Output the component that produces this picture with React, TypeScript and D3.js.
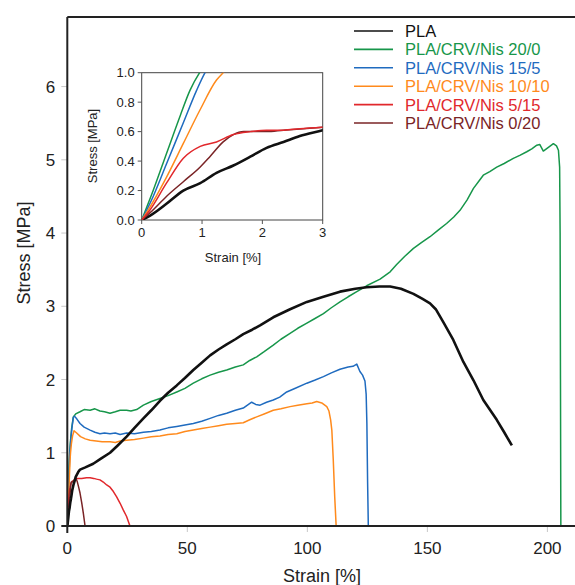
import React from 'react';
import * as d3 from 'd3';

type Pt = [number, number];

const pla: Pt[] = [[0,0],[0.14,0.03],[0.41,0.11],[0.69,0.2],[0.97,0.25],[1.24,0.32],[1.52,0.37],[1.8,0.43],[2.07,0.49],[2.35,0.53],[2.62,0.57],[3,0.61],[3.5,0.67],[4.6,0.74],[5.3,0.77],[7.5,0.8],[10.8,0.85],[14,0.92],[17.8,1.0],[21,1.1],[24.7,1.22],[28,1.34],[31.7,1.47],[35,1.58],[38.6,1.71],[42,1.82],[45.6,1.92],[49,2.02],[52.5,2.13],[56,2.23],[59.5,2.33],[63,2.41],[66.4,2.48],[70,2.55],[73.3,2.62],[77,2.68],[80.3,2.74],[85.8,2.85],[92.8,2.96],[99.8,3.06],[106.7,3.13],[113.6,3.2],[120,3.24],[124.7,3.26],[130,3.27],[134.5,3.27],[139,3.24],[144.2,3.17],[148,3.1],[151.1,3.04],[153.5,2.96],[156.7,2.78],[160.8,2.54],[165,2.24],[169.2,1.99],[173.3,1.72],[178.9,1.45],[182,1.28],[185.2,1.1]];

const crv20: Pt[] = [[0,0],[0.19,0.2],[0.41,0.45],[0.64,0.71],[0.8,0.88],[0.96,1.0],[1.3,1.15],[1.8,1.33],[2.5,1.49],[3.5,1.53],[5.3,1.56],[7,1.59],[9.5,1.58],[11.5,1.6],[13.6,1.57],[15.5,1.56],[17.8,1.54],[20,1.56],[22,1.58],[24.7,1.58],[26.5,1.57],[28.9,1.59],[31.7,1.65],[35,1.7],[38.6,1.74],[42,1.78],[45.6,1.83],[49,1.88],[52.5,1.95],[56,2.01],[59.5,2.06],[63,2.1],[66.4,2.13],[70,2.17],[73.3,2.2],[76,2.26],[78.9,2.31],[82,2.38],[85.8,2.47],[89,2.55],[92.8,2.63],[96,2.7],[99.8,2.77],[103,2.83],[106.7,2.9],[110,2.98],[113.6,3.06],[117,3.13],[120.6,3.2],[124.7,3.28],[130.3,3.37],[134.5,3.47],[137.2,3.57],[140.5,3.68],[144.2,3.79],[147.5,3.87],[151.1,3.95],[154.5,4.04],[158,4.13],[161,4.22],[163.6,4.31],[166.5,4.45],[169.2,4.61],[171.5,4.71],[173.3,4.79],[176,4.84],[178.9,4.9],[182,4.95],[185.8,5.02],[188.5,5.06],[191.4,5.11],[193.5,5.15],[195.6,5.2],[196.8,5.21],[198.3,5.12],[200,5.16],[202.5,5.22],[203.8,5.19],[204.6,5.13],[205.1,4.9],[205.3,4.0],[205.45,2.0],[205.6,0]];

const crv15: Pt[] = [[0,0],[0.19,0.16],[0.41,0.38],[0.69,0.66],[0.91,0.88],[1.05,1.0],[1.4,1.15],[1.9,1.33],[2.5,1.48],[3,1.5],[4,1.46],[5.3,1.4],[7,1.35],[9.5,1.31],[11.5,1.28],[13.6,1.26],[15.5,1.27],[17.8,1.26],[20,1.27],[22,1.25],[24.7,1.27],[28,1.26],[31.7,1.28],[35,1.29],[38.6,1.31],[42,1.34],[45.6,1.36],[49,1.38],[52.5,1.4],[56,1.43],[59.5,1.47],[63,1.51],[66.4,1.54],[70,1.58],[73.3,1.61],[76.8,1.69],[78.5,1.66],[80.3,1.65],[83,1.69],[85.8,1.72],[88.5,1.76],[91.4,1.83],[95,1.88],[99.8,1.95],[103,1.99],[106.7,2.04],[110,2.09],[113.6,2.14],[117,2.17],[119,2.18],[120.6,2.21],[121.9,2.11],[123,2.06],[124,1.98],[124.5,1.8],[124.8,1.4],[125.1,0.6],[125.4,0]];

const crv10: Pt[] = [[0,0],[0.08,0.05],[0.41,0.29],[0.69,0.52],[0.97,0.75],[1.24,0.95],[1.35,1.0],[1.7,1.12],[2.2,1.23],[2.8,1.3],[3.9,1.27],[5.5,1.22],[7.5,1.19],[9.5,1.17],[12,1.16],[14.5,1.15],[17.8,1.15],[20,1.14],[22,1.16],[24.7,1.17],[28,1.18],[31.7,1.2],[35,1.22],[38.6,1.23],[42,1.25],[45.6,1.26],[49,1.29],[52.5,1.31],[56,1.33],[59.5,1.35],[63,1.37],[66.4,1.39],[70,1.4],[73.3,1.41],[76,1.45],[78.9,1.49],[82,1.53],[85.8,1.58],[89,1.6],[92.8,1.63],[96,1.65],[99.8,1.67],[102,1.68],[103.9,1.7],[106,1.68],[108.1,1.63],[109,1.57],[109.7,1.45],[110.2,1.31],[110.8,0.9],[111.4,0.4],[112,0]];

const crv5: Pt[] = [[0,0],[0.14,0.07],[0.41,0.25],[0.69,0.42],[0.97,0.5],[1.24,0.53],[1.52,0.58],[1.8,0.6],[2.07,0.61],[2.35,0.61],[2.62,0.62],[3,0.63],[3.9,0.65],[6,0.65],[8,0.66],[9.5,0.66],[11,0.65],[12.2,0.64],[13.6,0.63],[15,0.6],[16.4,0.56],[17.8,0.53],[19.2,0.47],[20.5,0.4],[22,0.31],[23.3,0.22],[24.7,0.13],[26.1,0]];

const crv0: Pt[] = [[0,0],[0.14,0.05],[0.41,0.16],[0.69,0.26],[0.97,0.36],[1.13,0.43],[1.35,0.53],[1.52,0.58],[1.69,0.6],[2.07,0.6],[2.35,0.61],[3,0.63],[3.6,0.65],[4.2,0.6],[4.8,0.52],[5.3,0.45],[6,0.32],[6.7,0.17],[7.4,0]];

const seriesNames = ['PLA', 'PLA/CRV/Nis 20/0', 'PLA/CRV/Nis 15/5', 'PLA/CRV/Nis 10/10', 'PLA/CRV/Nis 5/15', 'PLA/CRV/Nis 0/20'];
const seriesData = [pla, crv20, crv15, crv10, crv5, crv0];
const seriesColors = ['#111111', '#17964a', '#1f6bbf', '#ff8a1c', '#e1282c', '#7a2426'];

const xTicks = [0, 50, 100, 150, 200];
const yTicks = [0, 1, 2, 3, 4, 5, 6];
const insetXTicks = [0, 1, 2, 3];
const insetYTicks = [0, 0.2, 0.4, 0.6, 0.8, 1.0];

const FONT = '"Liberation Sans", Arial, sans-serif';

export default function App() {
  const W = 575, H = 585;
  const x = d3.scaleLinear().domain([0, 211.5]).range([67.3, 575]);
  const y = d3.scaleLinear().domain([0, 6.95]).range([526, 17]);
  const line = d3.line<Pt>().x(d => x(d[0])).y(d => y(d[1]));

  const ix = d3.scaleLinear().domain([0, 3]).range([141.7, 322.7]);
  const iy = d3.scaleLinear().domain([0, 1]).range([220, 72.7]);
  const iline = d3.line<Pt>().x(d => ix(d[0])).y(d => iy(d[1])).curve(d3.curveMonotoneX);

  const drawOrder = [1, 2, 3, 4, 5, 0];
  const [x0, x1] = x.range();
  const [y0, y1] = y.range();

  return (
    <svg width={W} height={H} style={{ position: 'absolute', left: 0, top: 0, background: '#fff' }} fontFamily={FONT}>
      <defs>
        <clipPath id="mainClip"><rect x={x0} y={y1} width={x1 - x0} height={y0 - y1} /></clipPath>
        <clipPath id="insetClip"><rect x={ix(0)} y={iy(1)} width={ix(3) - ix(0)} height={iy(0) - iy(1)} /></clipPath>
      </defs>

      {/* main ticks */}
      {xTicks.filter(t => t > 0).map(t => (
        <g key={'xt' + t}>
          <line x1={x(t)} x2={x(t)} y1={y0} y2={y0 + 6} stroke="#c8c8c8" strokeWidth={1} />
          <text x={x(t)} y={y0 + 28} textAnchor="middle" fontSize={17} fill="#222">{t}</text>
        </g>
      ))}
      <text x={x(0)} y={y0 + 28} textAnchor="middle" fontSize={17} fill="#222">0</text>
      {yTicks.map(t => (
        <g key={'yt' + t}>
          {t > 0 && <line x1={x0 - 6} x2={x0} y1={y(t)} y2={y(t)} stroke="#c8c8c8" strokeWidth={1} />}
          <text x={x0 - 12} y={y(t) + 6} textAnchor="end" fontSize={17} fill="#222">{t}</text>
        </g>
      ))}

      {/* series */}
      <g clipPath="url(#mainClip)">
        {drawOrder.map(i => (
          <path key={'s' + i} d={line(seriesData[i]) ?? ''} fill="none" stroke={seriesColors[i]}
            strokeWidth={i === 0 ? 2.6 : 1.5} strokeLinejoin="round" />
        ))}
      </g>

      {/* main frame */}
      <line x1={x0} x2={x0} y1={y1} y2={y0 + 7} stroke="#222" strokeWidth={2} />
      <line x1={x0 - 6} x2={W} y1={y0} y2={y0} stroke="#222" strokeWidth={2} />
      <line x1={x0} x2={W} y1={y1} y2={y1} stroke="#222" strokeWidth={2} />

      <text x={322} y={582} textAnchor="middle" fontSize={18} fill="#222">Strain [%]</text>
      <text transform={`translate(30,253) rotate(-90)`} textAnchor="middle" fontSize={18} fill="#222">Stress [MPa]</text>

      {/* legend */}
      {seriesNames.map((n, i) => {
        const ly = 31 + i * 18.4;
        return (
          <g key={'lg' + i}>
            <line x1={354} x2={393} y1={ly} y2={ly} stroke={seriesColors[i]} strokeWidth={1.6} />
            <text x={405} y={ly + 6} fontSize={16.5} fill={seriesColors[i]}>{n}</text>
          </g>
        );
      })}

      {/* inset */}
      <rect x={ix(0)} y={iy(1)} width={ix(3) - ix(0)} height={iy(0) - iy(1)} fill="#fff" stroke="#444" strokeWidth={1} />
      {insetXTicks.map(t => (
        <g key={'ixt' + t}>
          <line x1={ix(t)} x2={ix(t)} y1={iy(0)} y2={iy(0) + 4} stroke="#555" strokeWidth={1} />
          <text x={ix(t)} y={iy(0) + 17} textAnchor="middle" fontSize={13} fill="#222">{t}</text>
        </g>
      ))}
      {insetYTicks.map(t => (
        <g key={'iyt' + t}>
          <line x1={ix(0) - 4} x2={ix(0)} y1={iy(t)} y2={iy(t)} stroke="#555" strokeWidth={1} />
          <text x={ix(0) - 7} y={iy(t) + 4.5} textAnchor="end" fontSize={13} fill="#222">{t.toFixed(1)}</text>
        </g>
      ))}
      <g clipPath="url(#insetClip)">
        {[1, 2, 3, 0, 5, 4].map(i => (
          <path key={'is' + i} d={iline(seriesData[i].filter(d => d[0] <= 3.6)) ?? ''} fill="none" stroke={seriesColors[i]}
            strokeWidth={i === 0 ? 2.6 : 1.5} />
        ))}
      </g>
      <text x={233} y={262} textAnchor="middle" fontSize={13} fill="#222">Strain [%]</text>
      <text transform={`translate(97,146) rotate(-90)`} textAnchor="middle" fontSize={13} fill="#222">Stress [MPa]</text>
    </svg>
  );
}
